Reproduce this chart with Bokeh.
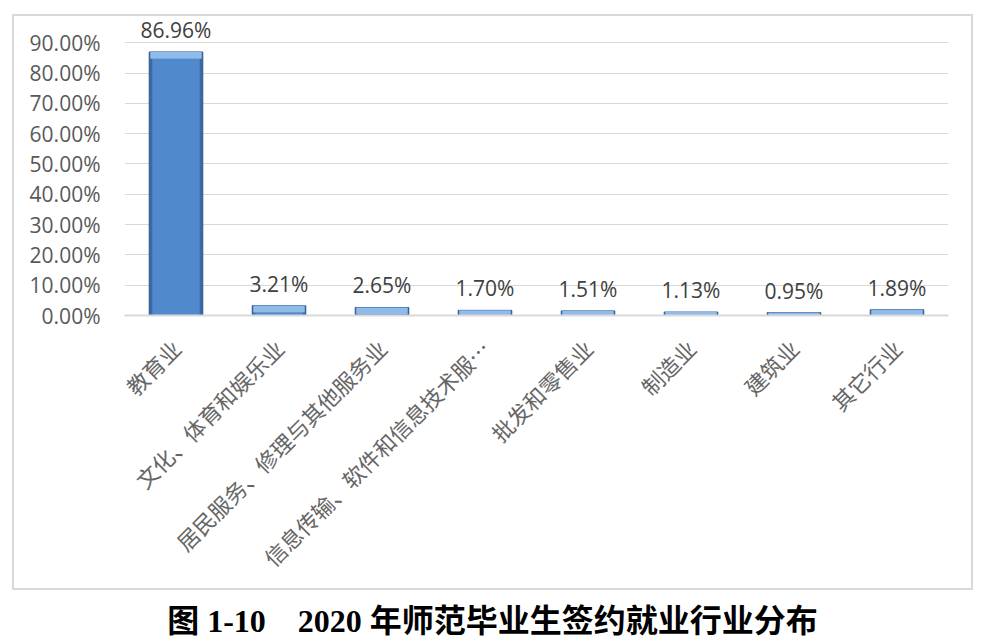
import math

from bokeh.core.properties import value
from bokeh.embed import file_html
from bokeh.layouts import column
from bokeh.models import (ColumnDataSource, Div, FixedTicker,
                          NumeralTickFormatter, Range1d)
from bokeh.plotting import figure
from bokeh.resources import INLINE

# datos
categorias = ["教育业", "文化、体育和娱乐业", "居民服务、修理与其他服务业",
              "信息传输、软件和信息技术服…", "批发和零售业", "制造业", "建筑业", "其它行业"]
porcentajes = [0.8696, 0.0321, 0.0265, 0.0170, 0.0151, 0.0113, 0.0095, 0.0189]
ticks_y = [0.0, 0.1, 0.2, 0.3, 0.4, 0.5, 0.6, 0.7, 0.8, 0.9]
titulo = "图 1-10    2020 年师范毕业生签约就业行业分布"

BISEL = 0.022

fuente = ColumnDataSource(data=dict(
    cat=categorias,
    top=porcentajes,
    bisel=[max(v - BISEL, 0) for v in porcentajes],
    etiqueta=["{:.2f}%".format(v * 100) for v in porcentajes],
))

# el rango sube un poco sobre 90% para que quepa la etiqueta de la barra alta
p = figure(x_range=categorias, y_range=Range1d(0, 0.98), width=961, height=576,
           output_backend="svg", toolbar_location=None,
           min_border_left=110, min_border_right=27, min_border_top=2,
           min_border_bottom=277, margin=(14, 0, 0, 12),
           styles={"border": "2px solid #d9d9d9", "box-sizing": "border-box"})
p.outline_line_color = None

# barras con un bisel sencillo
p.vbar(x="cat", top="top", width=0.52, source=fuente,
       fill_color="#3a68a8", line_color="#2c558c", line_width=1)
p.vbar(x="cat", top="bisel", width=0.46, source=fuente,
       fill_color="#5089cc", line_color=None)
p.vbar(x="cat", bottom="bisel", top="top", width=0.50, source=fuente,
       fill_color="#8fbbea", line_color=None)

p.text(x="cat", y="top", text="etiqueta", source=fuente,
       text_align="center", text_baseline="bottom", y_offset=-8,
       text_font=value("Open Sans"), text_font_size="21px", text_color="#404040")

p.yaxis.ticker = FixedTicker(ticks=ticks_y)
p.yaxis.formatter = NumeralTickFormatter(format="0.00%")
p.yaxis.axis_line_color = None
p.yaxis.major_tick_line_color = None
p.yaxis.minor_tick_line_color = None
p.yaxis.major_label_text_font = "Open Sans"
p.yaxis.major_label_text_font_size = "21px"
p.yaxis.major_label_text_color = "#595959"
p.yaxis.major_label_standoff = 18

p.xaxis.axis_line_color = "#d9d9d9"
p.xaxis.axis_line_width = 2
p.xaxis.major_tick_line_color = None
p.xaxis.minor_tick_line_color = None
p.xaxis.major_label_orientation = math.pi / 4
p.xaxis.major_label_text_font = "Noto Sans CJK SC"
p.xaxis.major_label_text_font_size = "22px"
p.xaxis.major_label_text_color = "#666666"
p.xaxis.major_label_standoff = 22

p.xgrid.grid_line_color = None
p.ygrid.ticker = FixedTicker(ticks=ticks_y)
p.ygrid.grid_line_color = "#d9d9d9"
p.ygrid.grid_line_width = 1

titulo_div = Div(text=titulo, width=961, height=38, margin=(12, 0, 0, 12),
                 styles={"text-align": "center", "white-space": "pre",
                         "font-family": "'Liberation Serif', 'Noto Sans CJK SC'",
                         "font-weight": "bold", "font-size": "32px",
                         "line-height": "38px", "color": "black"})

layout = column(p, titulo_div, spacing=0)

open("out.html", "w").write(file_html(layout, INLINE))
